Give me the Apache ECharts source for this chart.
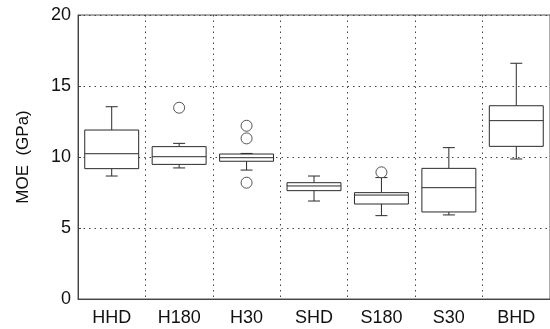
<!DOCTYPE html>
<html><head><meta charset="utf-8">
<script src="https://cdn.jsdelivr.net/npm/echarts@6/dist/echarts.min.js"></script>
<style>html,body{margin:0;padding:0;background:#fff}#c{width:550px;height:329px}</style>
</head><body><div id="c"></div>
<script>
var categories = ['HHD','H180','H30','SHD','S180','S30','BHD'];
// [lowWhisker, Q1, median, Q3, highWhisker]
var boxHHD  = [8.66, 9.18, 10.23, 11.9, 13.54];
var boxH180 = [9.23, 9.48, 10.02, 10.73, 10.96];
var boxH30  = [9.08, 9.7, 9.95, 10.21, 10.25];
var boxSHD  = [6.9, 7.63, 7.96, 8.19, 8.66];
var boxS180 = [5.87, 6.69, 7.32, 7.49, 8.55];
var boxS30  = [5.92, 6.13, 7.84, 9.2, 10.66];
var boxBHD  = [9.86, 10.75, 12.56, 13.61, 16.6];
var outlierCats = ['H180','H30','H30','H30','S180'];
var outlierVals = [13.47, 12.2, 11.31, 8.19, 8.92];
var yTicks = [0,5,10,15,20];

var boxes = [boxHHD, boxH180, boxH30, boxSHD, boxS180, boxS30, boxBHD];
var boxData = boxes.map(function(b,i){ return [i].concat(b); });
var outData = outlierCats.map(function(c,i){ return [categories.indexOf(c), outlierVals[i]]; });

var LC = '#2a2a2a';
var chart = echarts.init(document.getElementById('c'), null, {renderer:'canvas'});
chart.setOption({
  animation:false,
  backgroundColor:'#fff',
  grid:{left:78, top:15, width:475, bottom:30, show:true, borderColor:'#555', borderWidth:1},
  xAxis:{type:'category', data:categories, boundaryGap:true,
    axisLine:{lineStyle:{color:'#444', width:1}},
    axisTick:{show:false},
    axisLabel:{color:'#111', fontFamily:'Liberation Sans', fontSize:18, margin:10},
    splitLine:{show:true, lineStyle:{color:'#444', type:[1.5,4], width:1}}},
  yAxis:{type:'value', min:yTicks[0], max:yTicks[yTicks.length-1], interval:5,
    name:'MOE  (GPa)', nameLocation:'middle', nameGap:46,
    nameTextStyle:{color:'#111', fontFamily:'Liberation Sans', fontSize:17},
    axisLine:{show:true, lineStyle:{color:'#444', width:1}},
    axisTick:{show:true, inside:true, length:3, lineStyle:{color:'#444'}},
    axisLabel:{color:'#111', fontFamily:'Liberation Sans', fontSize:18, margin:7},
    splitLine:{show:true, lineStyle:{color:'#444', type:[1.5,4], width:1}}},
  series:[
    {type:'custom', data:boxData, z:5,
     renderItem:function(params, api){
       var i = api.value(0);
       var bw = api.size([1,0])[0]*0.8;
       var cw = 12;
       var x = api.coord([i,0])[0];
       var pLo = api.coord([i, api.value(1)])[1];
       var pQ1 = api.coord([i, api.value(2)])[1];
       var pMd = api.coord([i, api.value(3)])[1];
       var pQ3 = api.coord([i, api.value(4)])[1];
       var pHi = api.coord([i, api.value(5)])[1];
       var st = {stroke:LC, lineWidth:1, fill:null};
       return {type:'group', children:[
         {type:'line', shape:{x1:x,y1:pQ1,x2:x,y2:pLo}, style:st},
         {type:'line', shape:{x1:x,y1:pQ3,x2:x,y2:pHi}, style:st},
         {type:'line', shape:{x1:x-cw/2,y1:pLo,x2:x+cw/2,y2:pLo}, style:st},
         {type:'line', shape:{x1:x-cw/2,y1:pHi,x2:x+cw/2,y2:pHi}, style:st},
         {type:'rect', shape:{x:x-bw/2, y:pQ3, width:bw, height:pQ1-pQ3}, style:{stroke:LC, lineWidth:1, fill:'#fff'}},
         {type:'line', shape:{x1:x-bw/2,y1:pMd,x2:x+bw/2,y2:pMd}, style:st}
       ]};
     }},
    {type:'scatter', data:outData, z:6, symbol:'circle', symbolSize:11,
     itemStyle:{color:'#fff', borderColor:LC, borderWidth:1}}
  ]
});
</script></body></html>
